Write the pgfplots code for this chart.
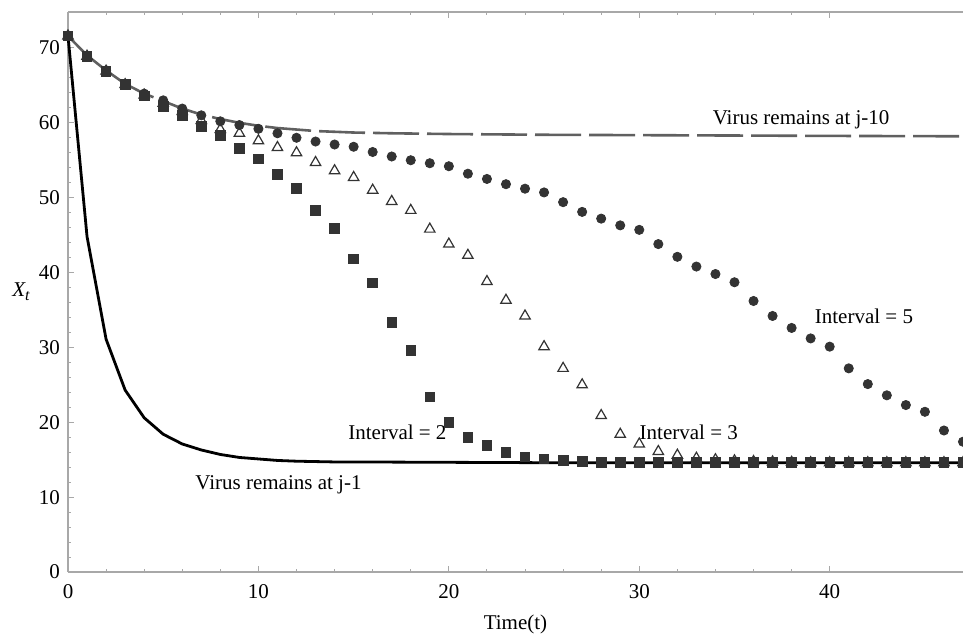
\documentclass[border=0pt]{standalone}
\usepackage{fontspec}
\setmainfont{Liberation Serif}
\usepackage{pgfplots}
\pgfplotsset{compat=1.18}
\definecolor{axisgray}{HTML}{A8A8A8}
\definecolor{markdark}{HTML}{333333}
\definecolor{dashgray}{HTML}{606060}
\newcommand{\lblfont}{\fontsize{10.5}{12}\selectfont}

\begin{document}
\begin{tikzpicture}
\path[use as bounding box] (-34pt,-32.5pt) rectangle (447.5pt,286pt);
\begin{axis}[
  scale only axis,
  width=447.5pt, height=280pt,
  xmin=0, xmax=47, ymin=0, ymax=74.8,
  axis x line*=box, axis y line*=left,
  axis line style={axisgray, line width=0.6pt, -},
  xtick={0,10,20,30,40}, ytick={0,10,...,70},
  minor x tick num=4, minor y tick num=4,
  tick align=inside,
  major tick length=2.8pt, minor tick length=1.4pt,
  tick style={axisgray, line width=0.5pt},
  tick label style={font=\lblfont},
  /pgf/number format/assume math mode=true,
  xticklabel style={yshift=-2.8pt},
  yticklabel style={xshift=-0.5pt},
  xlabel={Time(t)},
  xlabel style={font=\lblfont, at={(axis description cs:0.5,0)}, anchor=center, yshift=-26.2pt},
  ylabel={{\itshape X}\raisebox{-0.45ex}{\fontsize{8}{9}\selectfont\itshape t}},
  ylabel style={font=\lblfont, rotate=-90, at={(axis description cs:0,0.5)}, anchor=center, xshift=-23.5pt},
  clip=false,
]
% virus remains at j-1
\addplot[black, line width=1.4pt] coordinates {
 (0,71.6)(1,44.8)(2,31.1)(3,24.3)(4,20.6)(5,18.4)(6,17.1)(7,16.3)(8,15.7)(9,15.3)
 (10,15.1)(11,14.9)(12,14.8)(13,14.75)(14,14.7)(15,14.7)(20,14.65)(25,14.6)(30,14.6)(47,14.6)};
% virus remains at j-10: solid start, then dashed
\addplot[dashgray, line width=1.3pt] coordinates {
 (0,71.6)(1,69.0)(2,67.0)(3,65.2)(4,63.9)};
\addplot[dashgray, line width=1.3pt, dash pattern=on 23pt off 4pt, dash phase=18pt] coordinates {
 (4,63.9)(5,62.9)(6,61.9)(7,61.1)(8,60.5)(9,60.0)(10,59.6)(11,59.3)(12,59.1)(13,58.9)
 (14,58.8)(15,58.7)(17,58.6)(20,58.5)(25,58.4)(30,58.35)(35,58.3)(40,58.25)(47,58.2)};
% interval = 5
\addplot[only marks, mark=*, mark size=2.3pt, mark options={draw=markdark, fill=markdark}] coordinates {
 (0,71.6)(1,68.9)(2,67.0)(3,65.2)(4,63.9)(5,63.0)(6,61.9)(7,61.0)(8,60.2)(9,59.7)
 (10,59.2)(11,58.6)(12,58.0)(13,57.5)(14,57.1)(15,56.8)(16,56.1)(17,55.5)(18,55.0)(19,54.6)
 (20,54.2)(21,53.2)(22,52.5)(23,51.8)(24,51.2)(25,50.7)(26,49.4)(27,48.1)(28,47.2)(29,46.3)
 (30,45.7)(31,43.8)(32,42.1)(33,40.8)(34,39.8)(35,38.7)(36,36.2)(37,34.2)(38,32.6)(39,31.2)
 (40,30.1)(41,27.2)(42,25.1)(43,23.6)(44,22.3)(45,21.4)(46,18.9)(47,17.4)};
% interval = 3
\addplot[only marks, mark=triangle, mark size=3pt, mark options={draw=markdark, fill=white, line width=0.6pt}] coordinates {
 (0,71.6)(1,68.9)(2,66.9)(3,65.1)(4,63.7)(5,62.6)(6,61.5)(7,60.3)(8,59.1)(9,58.6)
 (10,57.6)(11,56.7)(12,56.0)(13,54.7)(14,53.6)(15,52.7)(16,51.0)(17,49.5)(18,48.3)(19,45.8)
 (20,43.8)(21,42.3)(22,38.8)(23,36.3)(24,34.2)(25,30.1)(26,27.2)(27,25.0)(28,20.9)(29,18.4)
 (30,17.1)(31,16.1)(32,15.6)(33,15.2)(34,15.0)(35,14.85)(36,14.75)(37,14.7)(38,14.65)(39,14.6)
 (40,14.6)(41,14.6)(42,14.6)(43,14.6)(44,14.6)(45,14.6)(46,14.6)(47,14.6)};
% interval = 2
\addplot[only marks, mark=square*, mark size=2.4pt, mark options={draw=markdark, fill=markdark}] coordinates {
 (0,71.6)(1,68.9)(2,66.9)(3,65.1)(4,63.6)(5,62.2)(6,61.0)(7,59.5)(8,58.3)(9,56.6)
 (10,55.2)(11,53.1)(12,51.2)(13,48.3)(14,45.9)(15,41.8)(16,38.6)(17,33.3)(18,29.6)(19,23.4)
 (20,20.0)(21,18.0)(22,16.9)(23,16.0)(24,15.4)(25,15.1)(26,14.9)(27,14.75)(28,14.65)(29,14.6)
 (30,14.6)(31,14.6)(32,14.6)(33,14.6)(34,14.6)(35,14.6)(36,14.6)(37,14.6)(38,14.6)(39,14.6)
 (40,14.6)(41,14.6)(42,14.6)(43,14.6)(44,14.6)(45,14.6)(46,14.6)(47,14.6)};
\node[font=\lblfont, inner sep=0pt] at (axis cs:38.5,60.4) {Virus remains at j-10};
\node[font=\lblfont, inner sep=0pt] at (axis cs:41.8,34.1) {Interval = 5};
\node[font=\lblfont, inner sep=0pt] at (axis cs:32.6,18.7) {Interval = 3};
\node[font=\lblfont, inner sep=0pt] at (axis cs:17.3,18.7) {Interval = 2};
\node[font=\lblfont, inner sep=0pt, anchor=west] at (axis cs:6.67,11.7) {Virus remains at j-1};
\end{axis}
\end{tikzpicture}
\end{document}
